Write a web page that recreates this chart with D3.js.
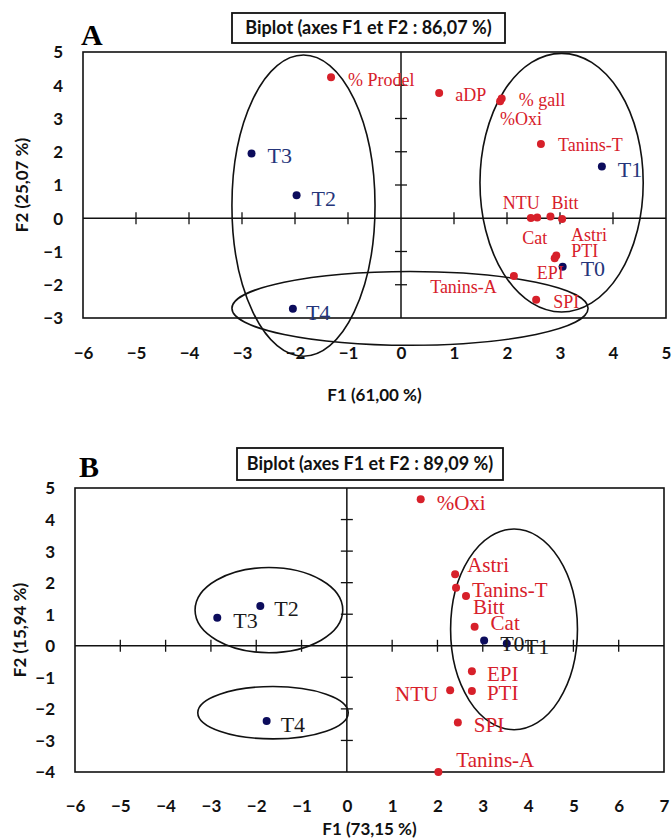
<!DOCTYPE html>
<html>
<head>
<meta charset="utf-8">
<script src="https://cdn.jsdelivr.net/npm/d3@7"></script>
<style>
  body { margin: 0; background: #fff; }
  svg { display: block; }
</style>
</head>
<body>
<div id="chart"></div>
<script>
// ---- data: panel A ----
const aVarNames = ['% Prodel', 'aDP', '% gall', '%Oxi', 'Tanins-T', 'NTU', 'Cat', 'Bitt', 'Astri', 'PTI', 'EPI', 'Tanins-A', 'SPI']
const aVarF1 = [-1.32, 0.72, 1.9, 1.87, 2.64, 2.45, 2.57, 2.82, 3.04, 2.93, 2.9, 2.13, 2.55]
const aVarF2 = [4.24, 3.77, 3.6, 3.52, 2.23, 0.01, 0.02, 0.05, -0.02, -1.12, -1.2, -1.74, -2.45]
const aObsNames = ['T0', 'T1', 'T2', 'T3', 'T4']
const aObsF1 = [3.05, 3.79, -1.97, -2.82, -2.04]
const aObsF2 = [-1.46, 1.56, 0.69, 1.95, -2.72]
// group ellipses (centre / radii in F1, F2 units)
const aGroupCx = [-1.84, 3.03, 0.17]
const aGroupCy = [0.38, 1.07, -2.71]
const aGroupRx = [1.35, 1.54, 3.36]
const aGroupRy = [4.53, 3.89, 1.11]

// ---- data: panel B ----
const bVarNames = ['%Oxi', 'Astri', 'Tanins-T', 'Bitt', 'Cat', 'EPI', 'NTU', 'PTI', 'SPI', 'Tanins-A']
const bVarF1 = [1.63, 2.39, 2.41, 2.63, 2.82, 2.76, 2.28, 2.76, 2.45, 2.02]
const bVarF2 = [4.64, 2.27, 1.84, 1.58, 0.6, -0.81, -1.41, -1.43, -2.43, -4.0]
const bObsNames = ['T0', 'T1', 'T2', 'T3', 'T4']
const bObsF1 = [3.03, 3.53, -1.91, -2.86, -1.77]
const bObsF2 = [0.17, 0.07, 1.26, 0.89, -2.38]
const bGroupCx = [-1.72, -1.63, 3.69]
const bGroupCy = [1.13, -2.12, 0.52]
const bGroupRx = [1.63, 1.66, 1.4]
const bGroupRy = [1.35, 0.83, 3.18]

// ---- layout: label offsets in px [dx, dy, anchor] ----
const aLabelPos = {
  '% Prodel': [17, 2], 'aDP': [16, 2], '% gall': [17, 1], '%Oxi': [0, 17],
  'Tanins-T': [17, 1], 'NTU': [-28, -15], 'Cat': [-15, 20], 'Bitt': [1, -14],
  'Astri': [9, 16], 'PTI': [15, -5], 'EPI': [-18, 15], 'Tanins-A': [-17, 11, 'end'],
  'SPI': [17, 2], 'T0': [18, 2], 'T1': [16, 3], 'T2': [15, 3], 'T3': [16, 2], 'T4': [13, 4],
}
const bLabelPos = {
  '%Oxi': [16, 3], 'Astri': [12, -9], 'Tanins-T': [16, 2], 'Bitt': [7, 11],
  'Cat': [16, -4], 'EPI': [15, 2], 'NTU': [-12, 3, 'end'], 'PTI': [15, 2],
  'SPI': [16, 2], 'Tanins-A': [18, -12], 'T0': [16, 3], 'T1': [18, 3],
  'T2': [14, 2], 'T3': [16, 3], 'T4': [14, 3],
}

// style
const red = '#d7202a'
const navy = '#0c0c5c'
const sans = 'Lato, "Open Sans", sans-serif'
const serif = '"Liberation Serif", "DejaVu Serif", serif'

const svg = d3
  .select('#chart')
  .append('svg')
  .attr('width', 672)
  .attr('height', 840)

function drawPanel(p) {
  const x = d3.scaleLinear().domain(p.xDomain).range([p.left, p.right])
  const y = d3.scaleLinear().domain(p.yDomain).range([p.bottom, p.top])
  const g = svg.append('g')

  // panel letter
  g.append('text')
    .attr('x', p.letterX)
    .attr('y', p.letterY)
    .attr('font-family', serif)
    .attr('font-weight', 'bold')
    .attr('font-size', '30px')
    .text(p.letter)

  // title box
  g.append('rect')
    .attr('x', p.boxX)
    .attr('y', p.boxY)
    .attr('width', p.boxW)
    .attr('height', p.boxH)
    .attr('fill', 'white')
    .attr('stroke', '#111')
    .attr('stroke-width', 1.8)
  const title = g
    .append('text')
    .attr('x', p.boxX + p.boxW / 2)
    .attr('y', p.boxY + p.boxH / 2 + 6)
    .attr('text-anchor', 'middle')
    .attr('font-family', sans)
    .attr('font-weight', 'bold')
    .attr('font-size', '18px')
    .attr('fill', '#111')
    .text(p.title)
  // squeeze the title to the box's inner width, like the original
  const tw = title.node().getComputedTextLength()
  const target = p.boxW - 16
  if (tw > target) title.attr('font-size', (18 * target) / tw + 'px')

  // frame
  g.append('rect')
    .attr('x', p.left)
    .attr('y', p.top)
    .attr('width', p.right - p.left)
    .attr('height', p.bottom - p.top)
    .attr('fill', 'none')
    .attr('stroke', '#111')
    .attr('stroke-width', 1.6)

  // zero lines
  g.append('line')
    .attr('x1', p.left).attr('x2', p.right)
    .attr('y1', y(0)).attr('y2', y(0))
    .attr('stroke', '#111').attr('stroke-width', 1.5)
  g.append('line')
    .attr('x1', x(0)).attr('x2', x(0))
    .attr('y1', p.top).attr('y2', p.bottom)
    .attr('stroke', '#111').attr('stroke-width', 1.5)

  // crossing ticks on the zero lines
  const xt = d3.range(p.xDomain[0] + 1, p.xDomain[1]).filter(v => v !== 0)
  const yt = d3.range(p.yDomain[0] + 1, p.yDomain[1]).filter(v => v !== 0)
  g.selectAll('line.xt')
    .data(xt)
    .join('line')
    .attr('class', 'xt')
    .attr('x1', d => x(d)).attr('x2', d => x(d))
    .attr('y1', y(0) - 6).attr('y2', y(0) + 6)
    .attr('stroke', '#111').attr('stroke-width', 1.3)
  g.selectAll('line.yt')
    .data(yt)
    .join('line')
    .attr('class', 'yt')
    .attr('x1', x(0) - 6).attr('x2', x(0) + 6)
    .attr('y1', d => y(d)).attr('y2', d => y(d))
    .attr('stroke', '#111').attr('stroke-width', 1.3)

  // tick labels via d3 axes (no lines)
  const xAxis = g
    .append('g')
    .attr('transform', `translate(0, ${p.xLabelY})`)
    .call(d3.axisBottom(x).tickValues(d3.range(p.xDomain[0], p.xDomain[1] + 1)).tickSize(0).tickPadding(0).tickFormat(d3.format('d')))
  const yAxis = g
    .append('g')
    .attr('transform', `translate(${p.left - 20}, 0)`)
    .call(d3.axisLeft(y).tickValues(d3.range(p.yDomain[0], p.yDomain[1] + 1)).tickSize(0).tickPadding(0).tickFormat(d3.format('d')))
  ;[xAxis, yAxis].forEach(a => {
    a.select('.domain').remove()
    a.selectAll('text')
      .attr('font-family', sans)
      .attr('font-weight', 'bold')
      .attr('font-size', '17px')
      .attr('fill', '#111')
  })
  xAxis.selectAll('text').attr('dy', '0.35em').attr('y', 0)
  yAxis.selectAll('text').attr('dy', '0.35em').attr('x', 0)

  // axis titles
  g.append('text')
    .attr('x', (p.left + p.right) / 2)
    .attr('y', p.xTitleY)
    .attr('dy', '0.35em')
    .attr('text-anchor', 'middle')
    .attr('font-family', sans)
    .attr('font-weight', 'bold')
    .attr('font-size', '17px')
    .attr('fill', '#111')
    .text(p.xTitle)
  g.append('text')
    .attr('transform', `translate(${p.yTitleX}, ${(p.top + p.bottom) / 2}) rotate(-90)`)
    .attr('dy', '0.35em')
    .attr('text-anchor', 'middle')
    .attr('font-family', sans)
    .attr('font-weight', 'bold')
    .attr('font-size', '17px')
    .attr('fill', '#111')
    .text(p.yTitle)

  // group ellipses
  const groups = p.groupCx.map((cx, i) => ({ cx, cy: p.groupCy[i], rx: p.groupRx[i], ry: p.groupRy[i] }))
  g.selectAll('ellipse.group')
    .data(groups)
    .join('ellipse')
    .attr('class', 'group')
    .attr('cx', d => x(d.cx))
    .attr('cy', d => y(d.cy))
    .attr('rx', d => x(d.cx + d.rx) - x(d.cx))
    .attr('ry', d => y(d.cy) - y(d.cy + d.ry))
    .attr('fill', 'none')
    .attr('stroke', '#111')
    .attr('stroke-width', 1.6)

  // variables (red) and observations (navy)
  const vars = p.varNames.map((name, i) => ({ name, f1: p.varF1[i], f2: p.varF2[i] }))
  const obs = p.obsNames.map((name, i) => ({ name, f1: p.obsF1[i], f2: p.obsF2[i] }))

  g.selectAll('circle.var')
    .data(vars)
    .join('circle')
    .attr('class', 'var')
    .attr('cx', d => x(d.f1))
    .attr('cy', d => y(d.f2))
    .attr('r', 4)
    .attr('fill', red)
  g.selectAll('circle.obs')
    .data(obs)
    .join('circle')
    .attr('class', 'obs')
    .attr('cx', d => x(d.f1))
    .attr('cy', d => y(d.f2))
    .attr('r', 4)
    .attr('fill', navy)

  const label = (sel, size, color) =>
    sel
      .attr('x', d => x(d.f1) + p.labelPos[d.name][0])
      .attr('y', d => y(d.f2) + p.labelPos[d.name][1])
      .attr('dy', '0.35em')
      .attr('text-anchor', d => p.labelPos[d.name][2] || 'start')
      .attr('font-family', serif)
      .attr('font-size', size)
      .attr('fill', color)
      .text(d => d.name)

  g.selectAll('text.var')
    .data(vars)
    .join('text')
    .attr('class', 'var')
    .call(label, p.varFont, red)
  g.selectAll('text.obs')
    .data(obs)
    .join('text')
    .attr('class', 'obs')
    .call(label, p.obsFont, p.obsColor)
}

drawPanel({
  letter: 'A', letterX: 81, letterY: 45,
  title: 'Biplot (axes F1 et F2 : 86,07 %)',
  boxX: 232, boxY: 13, boxW: 273, boxH: 30,
  left: 83, right: 666, top: 52, bottom: 318,
  xDomain: [-6, 5], yDomain: [-3, 5],
  xLabelY: 353, xTitleY: 395, yTitleX: 22,
  xTitle: 'F1 (61,00 %)', yTitle: 'F2 (25,07 %)',
  varNames: aVarNames, varF1: aVarF1, varF2: aVarF2,
  obsNames: aObsNames, obsF1: aObsF1, obsF2: aObsF2,
  groupCx: aGroupCx, groupCy: aGroupCy, groupRx: aGroupRx, groupRy: aGroupRy,
  labelPos: aLabelPos, varFont: '18px', obsFont: '22px', obsColor: '#25357a',
})

drawPanel({
  letter: 'B', letterX: 79, letterY: 477,
  title: 'Biplot (axes F1 et F2 : 89,09 %)',
  boxX: 237, boxY: 448, boxW: 266, boxH: 32,
  left: 75, right: 664, top: 488, bottom: 772,
  xDomain: [-6, 7], yDomain: [-4, 5],
  xLabelY: 806, xTitleY: 829, yTitleX: 20,
  xTitle: 'F1 (73,15 %)', yTitle: 'F2 (15,94 %)',
  varNames: bVarNames, varF1: bVarF1, varF2: bVarF2,
  obsNames: bObsNames, obsF1: bObsF1, obsF2: bObsF2,
  groupCx: bGroupCx, groupCy: bGroupCy, groupRx: bGroupRx, groupRy: bGroupRy,
  labelPos: bLabelPos, varFont: '21px', obsFont: '22px', obsColor: '#1a1a1a',
})
</script>
</body>
</html>
